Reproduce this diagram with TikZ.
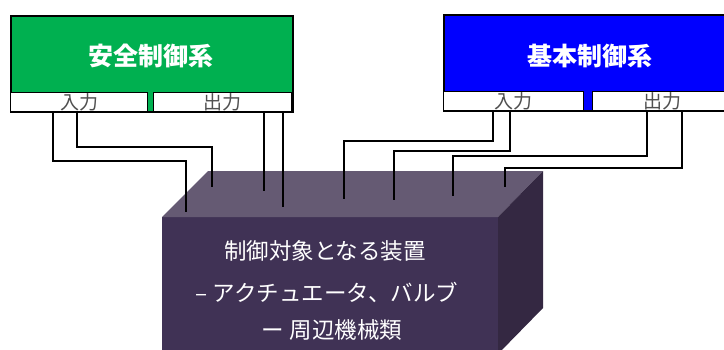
\documentclass[tikz,border=0pt]{standalone}
\usepackage{fontspec}
\newfontfamily\jpfont{Noto Sans CJK JP}
\definecolor{safegreen}{HTML}{00B050}
\definecolor{basicblue}{HTML}{0000FF}
\definecolor{cubetop}{HTML}{655A73}
\definecolor{cubefront}{HTML}{403255}
\definecolor{cubeside}{HTML}{342842}
\definecolor{portgray}{HTML}{505050}
\tikzset{
	sysbox/.style={draw=black,line width=1.6pt,anchor=north west,inner sep=0pt,minimum height=96pt},
	portbox/.style={draw=black,fill=white,line width=1.3pt,anchor=north west,inner sep=0pt,minimum width=137pt,minimum height=19pt,text=portgray,font=\jpfont\fontsize{19}{19}\selectfont},
	systitle/.style={text=white,font=\jpfont\bfseries\fontsize{25}{25}\selectfont},
	cubetext/.style={text=white,font=\jpfont\fontsize{22.5}{22.5}\selectfont},
	wire/.style={line width=1.5pt,black}
}
\begin{document}
\begin{tikzpicture}[x=1pt,y=-1pt]
				\useasboundingbox (0,0) rectangle (724,349);
				\fill[cubefront] (162,217) rectangle (498,356);
				\fill[cubetop] (162,217) -- (208,171) -- (543,171) -- (498,217) -- cycle;
				\fill[cubeside] (498,217) -- (543,171) -- (543,308) -- (498,354) -- cycle;
				\node[cubetext] (dev) at (325,251) {制御対象となる装置};
				\node[cubetext] (act) at (327,292) {– アクチュエータ、バルブ};
				\node[cubetext] (mech) at (332,330) {ー 周辺機械類};
				\node[sysbox,fill=safegreen,minimum width=282pt] (safe) at (10,15) {};
				\node[systitle] (safetitle) at (151,56) {安全制御系};
				\node[portbox] (safein) at (10,92) {\raisebox{-2pt}{入力}};
				\node[portbox,minimum width=138pt] (safeout) at (153,92) {\raisebox{-2pt}{出力}};
				\node[sysbox,fill=basicblue,minimum width=290pt] (basic) at (443,14) {};
				\node[systitle] (basictitle) at (590,56) {基本制御系};
				\node[portbox,minimum width=140pt] (basicin) at (443,91) {\raisebox{-2pt}{入力}};
				\node[portbox,minimum width=140pt] (basicout) at (592,91) {\raisebox{-2pt}{出力}};
				\coordinate (s1) at (186,212);
				\coordinate (s2) at (212,187);
				\coordinate (s3) at (264,191);
				\coordinate (s4) at (283,207);
				\coordinate (b1) at (344,199);
				\coordinate (b2) at (394,200);
				\coordinate (b3) at (453,196);
				\coordinate (b4) at (505,187);
				\draw[wire] (safein.south west) ++(43,0) |- (186,161) -- (s1);
				\draw[wire] (safein.south west) ++(67,0) |- (212,147) -- (s2);
				\draw[wire] (safeout.south west) ++(111,0) -- (s3);
				\draw[wire] (safeout.south west) ++(130,0) -- (s4);
				\draw[wire] (basicin.south west) ++(50,0) |- (344,141) -- (b1);
				\draw[wire] (basicin.south west) ++(67,0) |- (394,151) -- (b2);
				\draw[wire] (basicout.south west) ++(55,0) |- (453,156) -- (b3);
				\draw[wire] (basicout.south west) ++(90,0) |- (505,168) -- (b4);
			\end{tikzpicture}
\end{document}
